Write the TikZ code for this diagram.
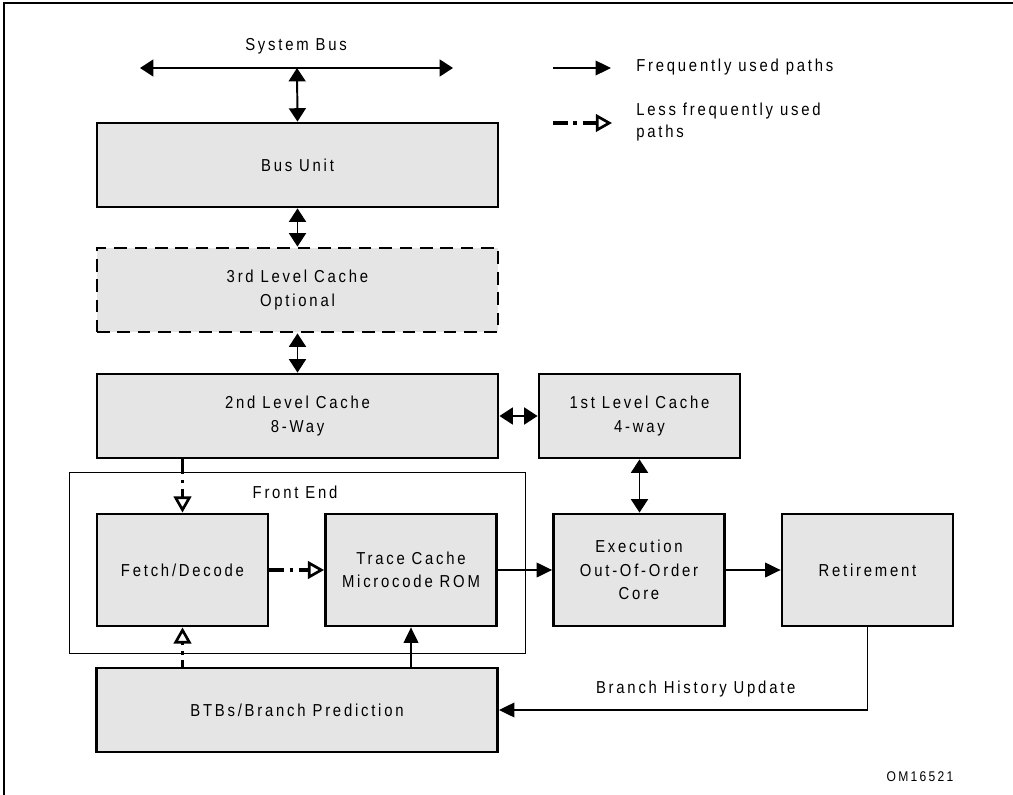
\documentclass[tikz,border=0pt]{standalone}
\usepackage{fontspec}
\setmainfont{Liberation Sans}[FakeStretch=0.86,LetterSpace=16]
\usetikzlibrary{positioning,arrows.meta,calc}

\tikzset{
  blockbox/.style={draw, line width=2pt, fill=black!10, align=center,
    font=\fontsize{12.3}{16.5}\selectfont, inner sep=2pt},
  widebox/.style={blockbox, minimum width=10.025cm, minimum height=2.1cm},
  smallbox/.style={blockbox, minimum width=4.275cm, minimum height=2.8cm},
  txt/.style={font=\fontsize{12.3}{16}\selectfont, align=left, inner sep=0pt},
  often/.style={line width=0.9pt, -{Triangle[length=11pt,width=10.5pt]}},
  twoway/.style={line width=1.4pt,
    {Triangle[length=9.5pt,width=12pt]}-{Triangle[length=9.5pt,width=12pt]}},
  rarely/.style={line width=2.3pt, dash pattern=on 10.5pt off 4pt on 2.5pt off 4pt,
    -{Triangle[open,length=11.5pt,width=12.5pt,line width=1.9pt]}}
}

\begin{document}
\begin{tikzpicture}[x=0.025cm,y=-0.025cm]
    \useasboundingbox (0,0) rectangle (1013,795);
    % Frame
    \draw[line width=1.4pt] (4,820) |- (1030,3);

    % System bus
    \coordinate (busleft) at (140,68);
    \coordinate (busright) at (453,68);
    \coordinate (bustap) at (297,68);
    \draw[twoway] (busleft) -- (busright);
    \node[txt] (bustitle) at (296,46) {System Bus};

    % Legend
    \coordinate (oftenstart) at (553,68);
    \coordinate (oftenend) at (611,68);
    \coordinate (rarelystart) at (553,123);
    \coordinate (rarelyend) at (612,123);
    \draw[often] (oftenstart) -- (oftenend);
    \draw[rarely] (rarelystart) -- (rarelyend);
    \node[txt, anchor=west] (oftentext) at (636,67) {Frequently used paths};
    \node[txt, anchor=west] (rarelytext) at (636,122) {Less frequently used\\paths};

    % Memory side
    \node[widebox] (busunit) at (297.5,165) {Bus Unit};
    \node[widebox, dash pattern=on 9pt off 5.5pt] (lthree) at (297.5,290) {3rd Level Cache\\Optional};
    \node[widebox] (ltwo) at (297.5,416) {2nd Level Cache\\8-Way};
    \node[blockbox, minimum width=5.025cm, minimum height=2.1cm] (lone) at (639.5,416) {1st Level Cache\\4-way};

    % Front end
    \node[draw, line width=0.6pt, minimum width=11.4cm, minimum height=4.525cm] (frontend) at (297,562.5) {};
    \node[txt] (fronttitle) at (295,492) {Front End};
    \node[smallbox] (fetch) at (182.5,570) {Fetch/Decode};
    \node[smallbox] (trace) at (411,570) {Trace Cache\\Microcode ROM};

    % Core
    \node[smallbox] (exec) at (639,570) {Execution\\Out-Of-Order\\Core};
    \node[smallbox] (retire) at (867.5,570) {Retirement};
    \node[widebox] (btb) at (297,710) {BTBs/Branch Prediction};

    % Connections
    \draw[twoway] (busunit.north) -- (bustap);
    \draw[twoway] (busunit.south) -- (lthree.north);
    \draw[twoway] (lthree.south) -- (ltwo.north);
    \draw[twoway] (ltwo.east) -- (lone.west);
    \draw[twoway] (lone.south) -- (lone.south |- exec.north);
    \draw[rarely] (fetch.north |- ltwo.south) -- (fetch.north);
    \draw[rarely] (fetch.east) -- (trace.west);
    \draw[often] (trace.east) -- (exec.west);
    \draw[often] (exec.east) -- (retire.west);
    \draw[often] (retire.south) |- node[txt, above=9pt, pos=0.733] (histtext) {Branch History Update} (btb.east);
    \draw[often] (trace.south |- btb.north) -- (trace.south);
    \draw[rarely, dash phase=6pt] (fetch.south |- btb.north) -- (fetch.south);

    \node[font=\fontsize{10}{11}\selectfont] (figid) at (920,777) {OM16521};
\end{tikzpicture}
\end{document}
